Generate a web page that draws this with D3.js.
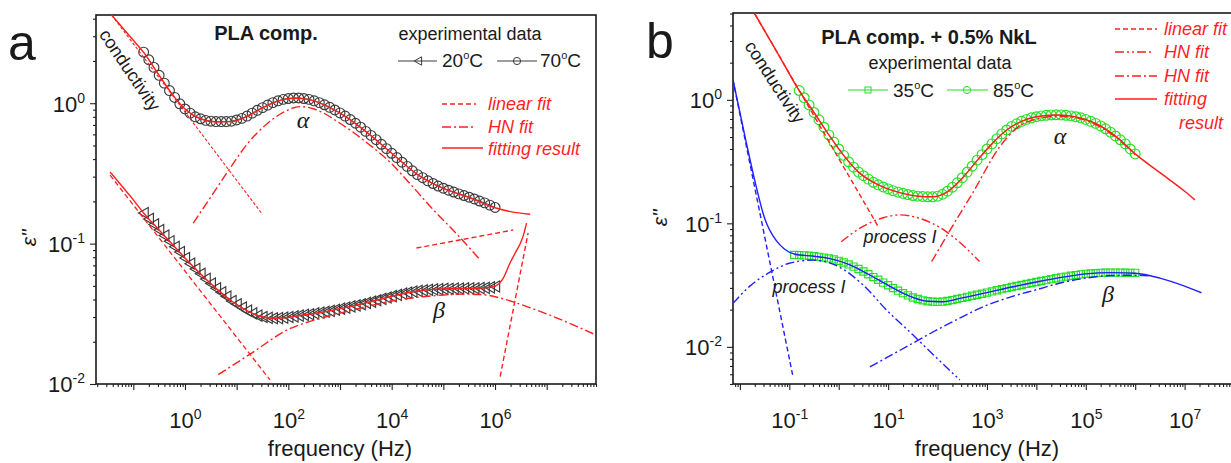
<!DOCTYPE html>
<html>
<head>
<meta charset="utf-8">
<script src="https://cdn.jsdelivr.net/npm/d3@7"></script>
<style>
  body { margin: 0; background: #fff; }
  text { font-family: "Liberation Sans", Arial, sans-serif; }
</style>
</head>
<body>
<script>
// ---------- data: log10(frequency / Hz) and eps'' ----------
// measured points, panel a (one grid for both temperatures)
var logFa = [-0.8,-0.7,-0.6,-0.5,-0.4,-0.3,-0.2,-0.1,0,
  0.1,0.2,0.3,0.4,0.5,0.6,0.7,0.8,0.9,1.0,
  1.1,1.2,1.3,1.4,1.5,1.6,1.7,1.8,1.9,2.0,
  2.1,2.2,2.3,2.4,2.5,2.6,2.7,2.8,2.9,3.0,
  3.1,3.2,3.3,3.4,3.5,3.6,3.7,3.8,3.9,4.0,
  4.1,4.2,4.3,4.4,4.5,4.6,4.7,4.8,4.9,5.0,
  5.1,5.2,5.3,5.4,5.5,5.6,5.7,5.8,5.9,6.0];
var eps70 = [2.31,2.04,1.80,1.58,1.39,1.23,1.10,0.99,0.91,
  0.85,0.80,0.775,0.755,0.745,0.74,0.74,0.74,0.745,0.76,
  0.78,0.81,0.85,0.89,0.93,0.97,1.01,1.04,1.065,1.08,
  1.09,1.09,1.08,1.065,1.04,1.01,0.975,0.935,0.895,0.853,
  0.81,0.765,0.72,0.675,0.63,0.59,0.55,0.51,0.475,0.44,
  0.41,0.38,0.355,0.33,0.31,0.295,0.28,0.268,0.257,0.248,
  0.24,0.233,0.226,0.22,0.214,0.208,0.201,0.195,0.188,0.181];
var eps20 = [0.165,0.150,0.137,0.125,0.114,0.104,0.095,0.087,0.079,
  0.072,0.066,0.061,0.056,0.052,0.048,0.045,0.042,0.039,0.037,
  0.035,0.0333,0.0318,0.0307,0.0300,0.0296,0.0294,0.0295,0.0297,0.0300,
  0.0303,0.0307,0.0311,0.0314,0.0318,0.0322,0.0327,0.0332,0.0338,0.0344,
  0.0350,0.0357,0.0363,0.0370,0.0378,0.0386,0.0395,0.0404,0.0413,0.0422,
  0.0431,0.0440,0.0448,0.0455,0.0460,0.0465,0.0469,0.0472,0.0474,0.0476,
  0.0477,0.0478,0.0479,0.0480,0.0480,0.0481,0.0482,0.0484,0.0488,0.0495];

// measured points, panel b
var logF85 = logFa;
var eps85 = [1.19,1.04,0.91,0.79,0.69,0.60,0.52,0.455,0.40,
  0.355,0.315,0.285,0.26,0.243,0.228,0.215,0.205,0.197,0.19,
  0.184,0.179,0.175,0.171,0.168,0.166,0.165,0.164,0.164,0.166,
  0.172,0.182,0.196,0.213,0.234,0.26,0.29,0.325,0.36,0.40,
  0.44,0.485,0.53,0.57,0.61,0.64,0.67,0.695,0.715,0.73,
  0.742,0.75,0.755,0.757,0.755,0.75,0.742,0.73,0.715,0.695,
  0.67,0.645,0.615,0.583,0.548,0.51,0.475,0.44,0.40,0.365];
var logF35 = [-0.9,-0.8,-0.7,-0.6,-0.5,-0.4,-0.3,-0.2,-0.1,0,
  0.1,0.2,0.3,0.4,0.5,0.6,0.7,0.8,0.9,1.0,
  1.1,1.2,1.3,1.4,1.5,1.6,1.7,1.8,1.9,2.0,
  2.1,2.2,2.3,2.4,2.5,2.6,2.7,2.8,2.9,3.0,
  3.1,3.2,3.3,3.4,3.5,3.6,3.7,3.8,3.9,4.0,
  4.1,4.2,4.3,4.4,4.5,4.6,4.7,4.8,4.9,5.0,
  5.1,5.2,5.3,5.4,5.5,5.6,5.7,5.8,5.9,6.0];
var eps35 = [0.0555,0.0553,0.0550,0.0546,0.0541,0.0535,0.0528,0.0520,0.0510,0.0497,
  0.0482,0.0465,0.0446,0.0427,0.0407,0.0387,0.0367,0.0349,0.0331,0.0315,
  0.0299,0.0285,0.0272,0.0261,0.0251,0.0244,0.0238,0.0234,0.0232,0.0231,
  0.0232,0.0235,0.0239,0.0244,0.0249,0.0254,0.0259,0.0264,0.0269,0.0275,
  0.0281,0.0287,0.0293,0.0299,0.0305,0.0311,0.0317,0.0323,0.0329,0.0335,
  0.0341,0.0347,0.0353,0.0359,0.0365,0.0370,0.0376,0.0381,0.0386,0.0390,
  0.0393,0.0395,0.0397,0.0398,0.0399,0.0399,0.0399,0.0398,0.0397,0.0397];

// fitted curves [log10 f, eps'']
var fit70 = [[-1.42,4.25],[-1.0,2.81],[-0.8,2.3],[-0.5,1.58],[-0.2,1.10],[0,0.91],[0.3,0.775],[0.6,0.735],[0.9,0.74],[1.2,0.805],[1.5,0.925],[1.8,1.035],[2.1,1.085],[2.4,1.06],[2.7,0.97],[3.0,0.85],[3.5,0.628],[4.0,0.44],[4.5,0.31],[5.0,0.247],[5.5,0.213],[6.0,0.18],[6.3,0.169],[6.68,0.162]];
var cond70 = [[-1.42,4.25],[1.48,0.165]];
var hnA70 = [[0.16,0.14],[0.5,0.215],[0.87,0.344],[1.2,0.51],[1.6,0.72],[1.9,0.86],[2.23,0.946],[2.5,0.91],[3.0,0.72],[3.5,0.53],[4.0,0.37],[4.29,0.284],[4.8,0.175],[5.3,0.113],[5.71,0.0767]];
var lin70 = [[4.48,0.093],[6.35,0.125]];
var fit20 = [[-1.45,0.324],[-1.0,0.205],[-0.8,0.165],[-0.5,0.125],[-0.2,0.095],[0,0.079],[0.3,0.061],[0.6,0.048],[0.9,0.039],[1.2,0.0333],[1.5,0.030],[1.8,0.0294],[2.2,0.0306],[2.6,0.0322],[3.0,0.0344],[3.5,0.0378],[4.0,0.0422],[4.5,0.046],[5.0,0.0476],[5.5,0.048],[5.8,0.0484],[6.0,0.0497],[6.15,0.056],[6.29,0.0727],[6.4,0.087],[6.48,0.0985],[6.55,0.115],[6.61,0.14]];
var cond20 = [[-1.45,0.307],[1.645,0.0107]];
var hnB20 = [[0.645,0.01165],[1.29,0.0166],[2.0,0.0245],[2.5,0.0285],[3.0,0.032],[3.5,0.0355],[4.0,0.039],[4.5,0.0415],[5.0,0.043],[5.4,0.0437],[5.77,0.0433],[6.1,0.041],[6.42,0.0377],[7.2,0.0295],[7.9,0.0228]];
var lin20 = [[6.10,0.0113],[6.64,0.119]];

var fit85 = [[-1.70,4.98],[-1.2,2.25],[-0.82,1.22],[-0.5,0.79],[-0.2,0.52],[0.1,0.355],[0.4,0.26],[0.8,0.205],[1.2,0.179],[1.6,0.166],[1.9,0.164],[2.2,0.18],[2.5,0.232],[2.8,0.322],[3.1,0.44],[3.4,0.57],[3.7,0.67],[4.0,0.73],[4.4,0.755],[4.8,0.728],[5.2,0.643],[5.6,0.508],[6.0,0.365],[6.5,0.257],[7.0,0.182],[7.21,0.155]];
var cond85 = [[-1.70,4.98],[0.8,0.094]];
var hnI85 = [[0.05,0.071],[0.5,0.095],[0.9,0.111],[1.23,0.117],[1.6,0.111],[2.0,0.095],[2.4,0.073],[2.85,0.049]];
var hnA85 = [[1.88,0.049],[2.3,0.0946],[2.71,0.176],[3.26,0.418],[3.6,0.59],[4.0,0.70],[4.4,0.735],[4.8,0.715],[5.2,0.63],[5.6,0.50],[6.0,0.36]];
var fit35 = [[-2.14,1.45],[-1.9,0.51],[-1.7,0.223],[-1.5,0.11],[-1.26,0.072],[-1.1,0.062],[-0.9,0.0565],[-0.5,0.0541],[-0.2,0.052],[0.2,0.0465],[0.6,0.0387],[1.0,0.0315],[1.4,0.0261],[1.8,0.0234],[2.1,0.0232],[2.5,0.0249],[3.0,0.0275],[3.5,0.0305],[4.0,0.0335],[4.5,0.0365],[5.0,0.039],[5.5,0.0399],[6.0,0.0394],[6.5,0.036],[7.0,0.031],[7.34,0.0274]];
var cond35 = [[-2.14,1.45],[-0.925,0.0057]];
var hnI35 = [[-2.14,0.0225],[-1.8,0.031],[-1.4,0.040],[-1.0,0.0475],[-0.52,0.0504],[0,0.0445],[0.5,0.0315],[0.966,0.0199],[1.5,0.0125],[2.0,0.008],[2.45,0.0054]];
var hnB35 = [[0.63,0.00687],[1.5,0.0107],[2.0,0.0138],[2.5,0.0175],[2.85,0.0205],[3.5,0.0255],[4.0,0.029],[4.5,0.033],[5.0,0.036],[5.5,0.0378],[6.0,0.038],[6.3,0.0375]];

var RED = "#ff1f1f", BLUE = "#2020ff", GREEN = "#22e022", DARK = "#3a3a3a";
var DASH = "5,3", DOT = "3,2", DASHDOT = "9,3,2,3", DASHDOTDOT = "9,3,2,3,2,3";

var svg = d3.select("body").append("svg")
            .attr("width", 1231)
            .attr("height", 463);

// log-axis helper: all 1..9 x 10^d ticks inside the domain
function logTicks(dom, majorOnly) {
  var out = [];
  for (var d = Math.floor(Math.log10(dom[0])) - 1; d <= Math.ceil(Math.log10(dom[1])); d++) {
    for (var m = 1; m <= 9; m++) {
      var v = m * Math.pow(10, d);
      if (v >= dom[0] * 0.999 && v <= dom[1] * 1.001 && ((m === 1) === majorOnly)) out.push(v);
    }
  }
  return out;
}

function power(sel, e, size) {
  sel.append("tspan").text("10");
  sel.append("tspan").attr("dy", -9).style("font-size", size + "px").text(e);
}

function makePanel(id, cfg) {
  var g = svg.append("g").attr("id", id);
  var x = d3.scaleLog().domain(cfg.xDom).range([cfg.left, cfg.right]);
  var y = d3.scaleLog().domain(cfg.yDom).range([cfg.bottom, cfg.top]);

  g.append("clipPath").attr("id", id + "-clip")
   .append("rect")
   .attr("x", cfg.left).attr("y", cfg.top)
   .attr("width", cfg.right - cfg.left).attr("height", cfg.bottom - cfg.top);

  // minor + major ticks, drawn with d3 axes
  var xg = g.append("g").attr("transform", "translate(0," + cfg.bottom + ")");
  xg.call(d3.axisBottom(x).tickValues(logTicks(cfg.xDom, false)).tickSize(3).tickSizeOuter(0).tickFormat(""));
  var xg2 = g.append("g").attr("transform", "translate(0," + cfg.bottom + ")");
  xg2.call(d3.axisBottom(x).tickValues(logTicks(cfg.xDom, true)).tickSize(6).tickSizeOuter(0).tickFormat(""));
  xg2.selectAll(".tick").each(function(d) {
    var e = Math.round(Math.log10(d));
    if (cfg.xLabel(e)) {
      var t = d3.select(this).append("text")
                .attr("y", 44).attr("fill", "#1a1a1a")
                .attr("text-anchor", "middle")
                .style("font-size", "22px");
      power(t, e, 14);
    }
  });
  var yg = g.append("g").attr("transform", "translate(" + cfg.left + ",0)");
  yg.call(d3.axisLeft(y).tickValues(logTicks(cfg.yDom, false)).tickSize(3).tickSizeOuter(0).tickFormat(""));
  var yg2 = g.append("g").attr("transform", "translate(" + cfg.left + ",0)");
  yg2.call(d3.axisLeft(y).tickValues(logTicks(cfg.yDom, true)).tickSize(6).tickSizeOuter(0).tickFormat(""));
  yg2.selectAll(".tick").each(function(d) {
    var e = Math.round(Math.log10(d));
    var t = d3.select(this).append("text")
              .attr("x", -11).attr("dy", "0.36em").attr("fill", "#1a1a1a")
              .attr("text-anchor", "end")
              .style("font-size", "22px");
    power(t, e, 14);
  });
  g.selectAll(".domain").remove();
  g.selectAll(".tick line").attr("stroke", "#222").attr("stroke-width", 1.1);

  // frame
  g.append("rect")
   .attr("x", cfg.left).attr("y", cfg.top)
   .attr("width", cfg.right - cfg.left).attr("height", cfg.bottom - cfg.top)
   .attr("fill", "none").attr("stroke", "#1a1a1a").attr("stroke-width", 1.6);

  var plot = g.append("g").attr("clip-path", "url(#" + id + "-clip)");
  return { g: g, plot: plot, x: x, y: y };
}

function drawCurve(p, pts, color, dash, width, straight) {
  var line = d3.line()
               .x(function(d) { return p.x(Math.pow(10, d[0])); })
               .y(function(d) { return p.y(d[1]); })
               .curve(straight ? d3.curveLinear : d3.curveMonotoneX);
  p.plot.append("path")
   .attr("d", line(pts))
   .attr("fill", "none")
   .attr("stroke", color)
   .attr("stroke-width", width || 1.4)
   .attr("stroke-dasharray", dash || null);
}

function drawPoints(p, lf, vals, shape, color) {
  var pts = lf.map(function(f, i) { return [f, vals[i]]; });
  var line = d3.line()
               .x(function(d) { return p.x(Math.pow(10, d[0])); })
               .y(function(d) { return p.y(d[1]); });
  p.plot.append("path").attr("d", line(pts)).attr("fill", "none")
   .attr("stroke", color).attr("stroke-width", 0.9);
  var sym = p.plot.append("g").selectAll("path").data(pts).enter().append("path")
   .attr("transform", function(d) { return "translate(" + p.x(Math.pow(10, d[0])) + "," + p.y(d[1]) + ")"; })
   .attr("fill", "none").attr("stroke", color).attr("stroke-width", 1.15);
  if (shape === "circle") sym.attr("d", d3.symbol().type(d3.symbolCircle).size(Math.PI * 4.9 * 4.9));
  if (shape === "square") sym.attr("d", "M-3.6,-3.6H3.6V3.6H-3.6Z");
  if (shape === "triangle") sym.attr("d", "M-5.2,0L4.6,-5.6L4.6,5.6Z");
}

// ---------------- panel a ----------------
var pa = makePanel("pa", {
  left: 96, right: 596, top: 15, bottom: 384,
  xDom: [Math.pow(10, -1.722), Math.pow(10, 7.954)],
  yDom: [0.01, 4.25],
  xLabel: function(e) { return e % 2 === 0; }
});
drawPoints(pa, logFa, eps70, "circle", DARK);
drawPoints(pa, logFa, eps20, "triangle", DARK);
drawCurve(pa, cond70, RED, DOT, 1.1, true);
drawCurve(pa, hnA70, RED, DASHDOT);
drawCurve(pa, lin70, RED, DASH, 1.4, true);
drawCurve(pa, fit70, RED, null);
drawCurve(pa, cond20, RED, DASH, 1.3, true);
drawCurve(pa, hnB20, RED, DASHDOT);
drawCurve(pa, lin20, RED, DASH, 1.4, true);
drawCurve(pa, fit20, RED, null);

// ---------------- panel b ----------------
var pb = makePanel("pb", {
  left: 733, right: 1236, top: 13, bottom: 384,
  xDom: [Math.pow(10, -2.14), Math.pow(10, 8.04)],
  yDom: [0.005, 5.05],
  xLabel: function(e) { return Math.abs(e % 2) === 1; }
});
drawPoints(pb, logF85, eps85, "circle", GREEN);
drawPoints(pb, logF35, eps35, "square", GREEN);
drawCurve(pb, cond85, RED, DASH, 1.4, true);
drawCurve(pb, hnI85, RED, DASHDOTDOT);
drawCurve(pb, hnA85, RED, DASHDOT);
drawCurve(pb, fit85, RED, null, 1.5);
drawCurve(pb, cond35, BLUE, DASH, 1.4, true);
drawCurve(pb, hnI35, BLUE, DASHDOTDOT);
drawCurve(pb, hnB35, BLUE, DASHDOT);
drawCurve(pb, fit35, BLUE, null);

// ---------------- texts ----------------
function label(x, y, s, opts) {
  opts = opts || {};
  var t = svg.append("text").attr("x", x).attr("y", y)
             .attr("fill", opts.fill || "#1a1a1a")
             .attr("text-anchor", opts.anchor || "start")
             .style("font-size", (opts.size || 18) + "px");
  if (opts.bold) t.style("font-weight", "bold");
  if (opts.italic) t.style("font-style", "italic");
  if (opts.serif) t.style("font-family", "'Liberation Serif', 'Times New Roman', serif");
  if (opts.rotate != null) t.attr("transform", "rotate(" + opts.rotate + "," + x + "," + y + ")");
  if (opts.dy) t.attr("dy", opts.dy);
  t.text(s);
  return t;
}
function degLabel(x, y, num) {
  var t = svg.append("text").attr("x", x).attr("y", y).attr("fill", "#1a1a1a").style("font-size", "19px");
  t.append("tspan").text(num);
  t.append("tspan").attr("dy", -8).style("font-size", "11px").text("o");
  t.append("tspan").attr("dy", 8).text("C");
}
function legLine(x1, x2, y, color, dash, w) {
  svg.append("line").attr("x1", x1).attr("x2", x2).attr("y1", y).attr("y2", y)
     .attr("stroke", color).attr("stroke-width", w || 1.4).attr("stroke-dasharray", dash || null);
}

// panel letters
label(8, 60, "a", { size: 50 });
label(646, 58, "b", { size: 50 });

// axis titles
label(pa.x(Math.pow(10, 3)), 456, "frequency (Hz)", { size: 22, anchor: "middle" });
label(pb.x(Math.pow(10, 3)), 456, "frequency (Hz)", { size: 22, anchor: "middle" });
label(36, 238, "\u03b5\"", { size: 21, italic: true, rotate: -90, anchor: "middle" });
label(667, 218, "\u03b5\"", { size: 21, italic: true, rotate: -90, anchor: "middle" });

// panel a legends
label(266, 40, "PLA comp.", { size: 20, bold: true, anchor: "middle" });
label(470, 40, "experimental data", { size: 18, anchor: "middle" });
legLine(398, 437, 61, DARK, null, 1);
svg.append("path").attr("d", "M-3.8,0L3.6,-4.2L3.6,4.2Z").attr("transform", "translate(418,61)")
   .attr("fill", "none").attr("stroke", DARK);
degLabel(442, 67, "20");
legLine(497, 537, 61, DARK, null, 1);
svg.append("circle").attr("cx", 517).attr("cy", 61).attr("r", 3.6).attr("fill", "none").attr("stroke", DARK);
degLabel(540, 67, "70");

legLine(442, 476, 104, RED, DASH);
label(488, 110, "linear fit", { size: 18, italic: true, fill: RED });
legLine(442, 476, 127, RED, DASHDOT);
label(488, 133, "HN fit", { size: 18, italic: true, fill: RED });
legLine(442, 483, 148, RED, null);
label(488, 155, "fitting result", { size: 18, italic: true, fill: RED });

label(130, 70, "conductivity", { size: 18, anchor: "middle", rotate: 56, dy: "0.35em" });
label(303, 128, "\u03b1", { size: 24, italic: true, serif: true, anchor: "middle" });
label(439, 318, "\u03b2", { size: 24, italic: true, serif: true, anchor: "middle" });

// panel b legends
label(929, 44, "PLA comp. + 0.5% NkL", { size: 20, bold: true, anchor: "middle" });
label(940, 69, "experimental data", { size: 18, anchor: "middle" });
legLine(848, 888, 90, GREEN, null, 1.2);
svg.append("rect").attr("x", 865).attr("y", 87).attr("width", 6).attr("height", 6)
   .attr("fill", "none").attr("stroke", GREEN);
degLabel(893, 97, "35");
legLine(947, 988, 90, GREEN, null, 1.2);
svg.append("circle").attr("cx", 967).attr("cy", 90).attr("r", 3.6).attr("fill", "none").attr("stroke", GREEN);
degLabel(993, 97, "85");

legLine(1115, 1157, 29, RED, DASH);
label(1164, 35, "linear fit", { size: 18, italic: true, fill: RED });
legLine(1115, 1152, 52, RED, DASHDOTDOT);
label(1164, 58, "HN fit", { size: 18, italic: true, fill: RED });
legLine(1115, 1157, 76, RED, DASHDOT);
label(1164, 82, "HN fit", { size: 18, italic: true, fill: RED });
legLine(1115, 1157, 99, RED, null);
label(1164, 105, "fitting", { size: 18, italic: true, fill: RED });
label(1179, 129, "result", { size: 18, italic: true, fill: RED });

label(775, 82, "conductivity", { size: 18, anchor: "middle", rotate: 57, dy: "0.35em" });
label(1060, 144, "\u03b1", { size: 24, italic: true, serif: true, anchor: "middle" });
label(1108, 302, "\u03b2", { size: 24, italic: true, serif: true, anchor: "middle" });
label(900, 243, "process I", { size: 18, italic: true, anchor: "middle" });
label(809, 293, "process I", { size: 18, italic: true, anchor: "middle" });
</script>
</body>
</html>
